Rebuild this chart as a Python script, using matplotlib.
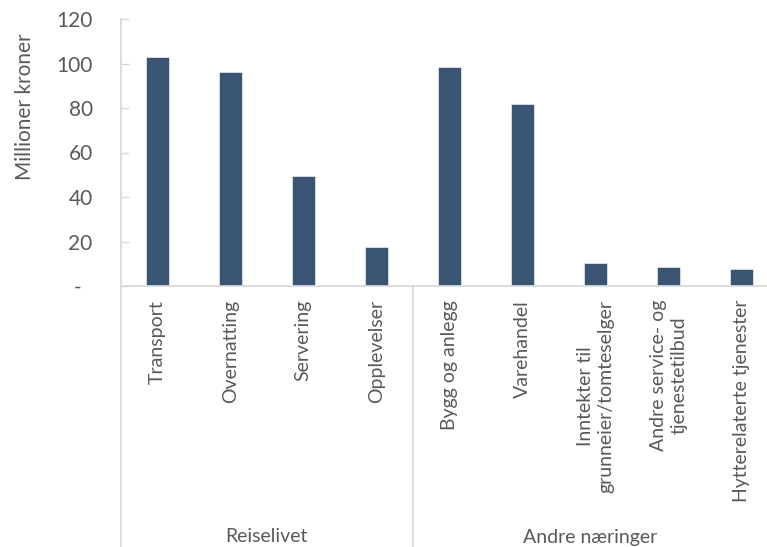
import matplotlib.pyplot as plt
from matplotlib.transforms import blended_transform_factory

# Omsetning fordelt på næring (millioner kroner)
kategorier = ['Transport', 'Overnatting', 'Servering', 'Opplevelser',
              'Bygg og anlegg', 'Varehandel',
              'Inntekter til\ngrunneier/tomteselger',
              'Andre service- og\ntjenestetilbud',
              'Hytterelaterte tjenester']
verdier = [102.9, 96.3, 49.5, 17.4, 98.5, 82.0, 10.5, 8.7, 7.6]
grupper = ['Reiselivet', 'Andre næringer']
gruppe_storrelse = [4, 5]
y_ticks = [0, 20, 40, 60, 80, 100, 120]
y_labels = ['-  ', '20', '40', '60', '80', '100', '120']

bar_farge = '#3A5573'
linje_farge = '#D9D9D9'
tekst_farge = '#595959'
plt.rcParams['font.family'] = ['Lato', 'DejaVu Sans']

W, H = 767, 547
fig = plt.figure(figsize=(W / 100, H / 100), dpi=100)
x0, y0, y1 = 120.5, 286.0, 19.0
bredde = 9 * 73.1
ax = fig.add_axes([x0 / W, (H - y0) / H, bredde / W, (y0 - y1) / H])

x = list(range(len(kategorier)))
ax.bar(x, verdier, width=0.315, color=bar_farge, edgecolor='white', linewidth=0.4)

ax.set_xlim(-0.5, len(kategorier) - 0.5)
ax.set_ylim(0, 120)
ax.set_yticks(y_ticks)
ax.set_yticklabels(y_labels)
ax.tick_params(axis='y', direction='in', length=6, width=1, color=linje_farge,
               labelsize=15, labelcolor=tekst_farge, pad=20)

ax.set_xticks(x)
ax.set_xticklabels(kategorier, rotation=90, ha='center', va='top',
                   multialignment='center', linespacing=1.3)
ax.tick_params(axis='x', length=0, labelsize=14, labelcolor=tekst_farge, pad=10)

for side in ['top', 'right', 'left']:
    ax.spines[side].set_visible(False)
ax.spines['bottom'].set_color(linje_farge)
ax.spines['bottom'].set_linewidth(1.3)

# Skillelinjer mellom gruppene, helt ned til bunnen
trans = blended_transform_factory(ax.transData, ax.transAxes)
bunn = -(H - y0) / (y0 - y1)
ax.plot([-0.5, -0.5], [bunn, 1.0], color=linje_farge, lw=1.3,
        transform=trans, clip_on=False)
start = 0
for n in gruppe_storrelse[:-1]:
    start += n
    ax.plot([start - 0.5, start - 0.5], [bunn, 0], color=linje_farge, lw=1.3,
            transform=trans, clip_on=False)

# Gruppenavn
gruppe_x = [1.5, 5.93]
gy = -(537 - y0) / (y0 - y1)
for navn, gx in zip(grupper, gruppe_x):
    ax.text(gx, gy, navn, transform=trans, ha='center', va='center',
            fontsize=14, color=tekst_farge)

fig.text(25 / W, 1 - 107 / H, 'Millioner kroner', rotation=90, ha='center',
         va='center', fontsize=15, color=tekst_farge)

fig.savefig('out.png', dpi=100)
